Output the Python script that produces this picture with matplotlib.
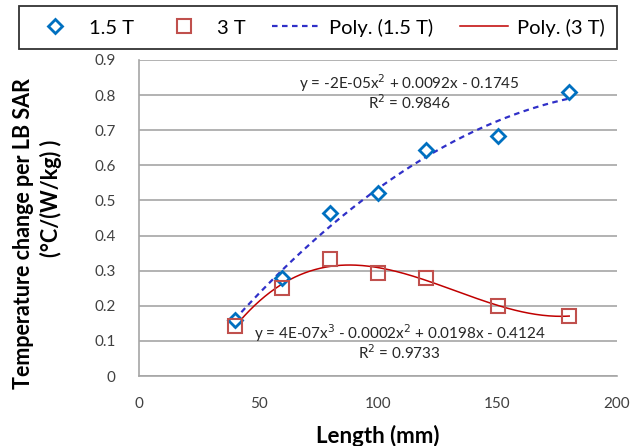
import numpy as np
import matplotlib
matplotlib.use('Agg')
import matplotlib.pyplot as plt

plt.rcParams['font.family'] = ['Lato', 'DejaVu Sans']

# data
length = [40, 60, 80, 100, 120, 150, 180]
temp_15t = [0.16, 0.28, 0.464, 0.521, 0.645, 0.684, 0.809]
temp_3t = [0.142, 0.25, 0.332, 0.293, 0.279, 0.20, 0.171]

eq_15t = 'y = -2E-05x$^2$ + 0.0092x - 0.1745'
r2_15t = 'R$^2$ = 0.9846'
eq_3t = 'y = 4E-07x$^3$ - 0.0002x$^2$ + 0.0198x - 0.4124'
r2_3t = 'R$^2$ = 0.9733'

blue = '#0070C0'
red = '#C0504D'
trend_blue = '#3030C8'
trend_red = '#C00000'
grid_c = '#A6A6A6'

fig = plt.figure(figsize=(6.32, 4.46), dpi=100)
ax = fig.add_axes([139/632, 70/446, 478/632, 316/446])

# polynomial trendlines (same as excel: order 2 and order 3)
xs = np.linspace(min(length), max(length), 200)
p2 = np.polyfit(length, temp_15t, 2)
p3 = np.polyfit(length, temp_3t, 3)

ax.plot(length, temp_15t, linestyle='none', marker='D', markersize=7,
        markerfacecolor='white', markeredgecolor=blue, markeredgewidth=2,
        label='1.5 T', zorder=4)
ax.plot(length, temp_3t, linestyle='none', marker='s', markersize=10,
        markerfacecolor='none', markeredgecolor=red, markeredgewidth=1.5,
        label='3 T', zorder=5)
ax.plot(xs, np.polyval(p2, xs), color=trend_blue, linestyle=(0, (2.5, 2)),
        linewidth=1.6, label='Poly. (1.5 T)', zorder=3)
ax.plot(xs, np.polyval(p3, xs), color=trend_red, linewidth=1.1,
        label='Poly. (3 T)', zorder=3)

txt = dict(ha='center', va='center', fontsize=11, color='#262626')
ax.text(113, 0.835, eq_15t, **txt)
ax.text(113, 0.778, r2_15t, **txt)
ax.text(109, 0.122, eq_3t, **txt)
ax.text(109, 0.066, r2_3t, **txt)

ax.set_xlim(0, 200)
ax.set_ylim(0, 0.9)
ax.set_xticks([0, 50, 100, 150, 200])
ax.set_yticks(np.arange(0, 0.91, 0.1))
ax.set_yticklabels(['0', '0.1', '0.2', '0.3', '0.4', '0.5', '0.6', '0.7', '0.8', '0.9'])
ax.tick_params(length=0, labelsize=11, labelcolor='#404040')
ax.tick_params(axis='y', pad=17)
ax.tick_params(axis='x', pad=15)
ax.grid(axis='y', color=grid_c, linewidth=1.2)
ax.set_axisbelow(True)
for s in ['top', 'right']:
    ax.spines[s].set_visible(False)
for s in ['left', 'bottom']:
    ax.spines[s].set_color(grid_c)
    ax.spines[s].set_linewidth(1.2)

ax.set_xlabel('Length (mm)', fontsize=16, fontweight='bold', labelpad=10)
fig.text(24/632, 1 - 234/446, 'Temperature change per LB SAR', rotation=90,
         ha='center', va='center', fontsize=15.5, fontweight='bold')
fig.text(51/632, 1 - 198/446, '(°C/(W/kg) )', rotation=90,
         ha='center', va='center', fontsize=15.5, fontweight='bold')

leg = fig.legend(loc='center', bbox_to_anchor=(318/632, 1 - 27.5/446), ncol=4,
                 fontsize=14.5, handlelength=2.4, handletextpad=0.45,
                 columnspacing=1.3, borderpad=0.6, fancybox=False,
                 frameon=True, edgecolor='black')
leg.get_frame().set_linewidth(1.3)

fig.savefig('out.png', dpi=100)
